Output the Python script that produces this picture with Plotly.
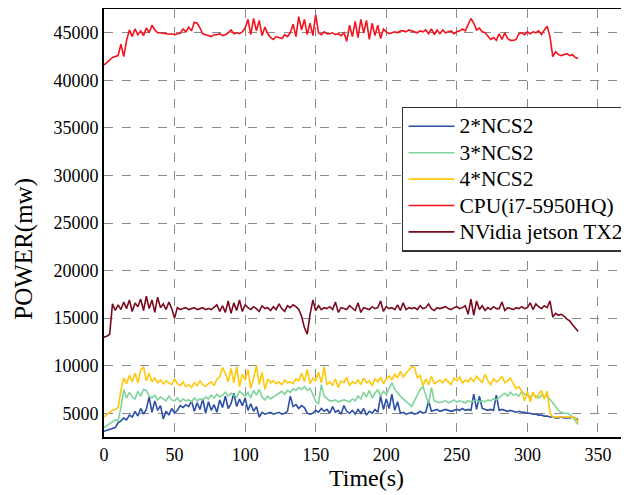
import plotly.graph_objects as go

TIME = [0, 2, 4, 6, 8, 10, 12, 14, 16, 18,
        20, 22, 24, 26, 28, 30, 32, 34, 36, 38,
        40, 42, 44, 46, 48, 50, 52, 54, 56, 58,
        60, 62, 64, 66, 68, 70, 72, 74, 76, 78,
        80, 82, 84, 86, 88, 90, 92, 94, 96, 98,
        100, 102, 104, 106, 108, 110, 112, 114, 116, 118,
        120, 122, 124, 126, 128, 130, 132, 134, 136, 138,
        140, 142, 144, 146, 148, 150, 152, 154, 156, 158,
        160, 162, 164, 166, 168, 170, 172, 174, 176, 178,
        180, 182, 184, 186, 188, 190, 192, 194, 196, 198,
        200, 202, 204, 206, 208, 210, 212, 214, 216, 218,
        220, 222, 224, 226, 228, 230, 232, 234, 236, 238,
        240, 242, 244, 246, 248, 250, 252, 254, 256, 258,
        260, 262, 264, 266, 268, 270, 272, 274, 276, 278,
        280, 282, 284, 286, 288, 290, 292, 294, 296, 298,
        300, 302, 304, 306, 308, 310, 312, 314, 316, 318,
        320, 322, 324, 326, 328, 330, 332, 334, 336]

NCS2_2 = [3100, 3200, 3300, 3400, 3500, 4000, 4200, 4500, 4300, 4800,
          4600, 5200, 4700, 5500, 4900, 5400, 6700, 5100, 6300, 5300,
          5800, 4400, 5200, 4800, 5500, 5000, 5300, 5800, 5600, 5900,
          5700, 6300, 5200, 6100, 5400, 6500, 5000, 6200, 5300, 5900,
          5100, 6400, 5600, 6800, 5500, 6000, 7100, 5700, 6500, 5800,
          6600, 5300, 6000, 5200, 5700, 4600, 5100, 4900, 5000, 5100,
          4900, 5000, 5100, 4900, 5000, 5200, 6800, 5700, 5900, 5500,
          5800, 5600, 5000, 4900, 5000, 5300, 5100, 5500, 5200, 5400,
          5000, 5700, 5100, 5300, 4900, 5800, 5200, 5000, 5300, 4900,
          5400, 5000, 5500, 4800, 5200, 5000, 5400, 5100, 6800, 5400,
          6500, 5500, 7000, 5300, 6200, 5000, 5100, 4900, 5000, 5100,
          4900, 5000, 5200, 5000, 5100, 6300, 5200, 5300, 5400, 5200,
          5300, 5400, 5300, 5200, 5300, 5400, 5300, 5500, 5300, 5400,
          5300, 7000, 5400, 6800, 5500, 5400, 5300, 5400, 5300, 6900,
          5300, 5400, 5300, 5200, 5300, 5200, 5100, 5200, 5100, 5100,
          5000, 5000, 4900, 4900, 4800, 4800, 4700, 4700, 4600, 4600,
          4500, 4500, 4600, 4500, 4500, 4500, 4600, 4500, 4300]

NCS2_3 = [3500, 3700, 3900, 4100, 4300, 4200, 5600, 7500, 6600, 7200,
          6700, 6500, 7300, 6800, 7500, 7400, 6800, 6600, 6900, 6400,
          6700, 6500, 6300, 6800, 6400, 6300, 6600, 6200, 6500, 6300,
          6400, 6200, 6600, 6300, 6500, 6400, 6700, 6500, 6900, 6600,
          7000, 6700, 6900, 7200, 6800, 7100, 6900, 6700, 7300, 7000,
          6800, 7200, 6600, 7400, 6900, 7500, 6700, 6400, 6800, 6500,
          6700, 6900, 7100, 7300, 7000, 7400, 7200, 7600, 7400, 7700,
          7500, 7800, 7400, 7600, 7000, 6200, 6000, 8000, 6800, 6500,
          6300, 6300, 6400, 6200, 6300, 6400, 6300, 6200, 6500, 6300,
          6800, 6500, 7200, 6700, 7400, 6600, 7100, 7500, 6800, 7300,
          7000, 7600, 8200, 7500, 7100, 6800, 6500, 6200, 5900, 5700,
          6300, 6900, 7500, 7800, 6800, 6000, 7700, 6300, 6200, 6100,
          6200, 6300, 6100, 6200, 6400, 6200, 6300, 6200, 6100, 6300,
          6200, 6300, 6400, 6200, 6300, 6200, 6400, 6300, 6500, 6400,
          6700, 6900, 7100, 6800, 7200, 6900, 7000, 6800, 7300, 7000,
          6900, 6700, 7000, 6800, 6600, 6900, 6700, 6800, 6500, 6100,
          5700, 5300, 5100, 5000, 5000, 4900, 4600, 4200, 3800]

NCS2_4 = [4600, 4900, 5100, 5300, 5400, 5600, 7400, 8700, 8100, 9000,
          8300, 9200, 8200, 9500, 9900, 8400, 9200, 8300, 8700, 8200,
          8500, 8100, 8400, 8200, 8000, 8600, 8100, 7900, 8300, 7800,
          8000, 7700, 8200, 7900, 8400, 8000, 7800, 8100, 8300, 7900,
          8600, 8800, 9800, 9200, 8300, 9700, 8200, 9900, 7800, 9100,
          8500, 9600, 7600, 8700, 10000, 8000, 9300, 7500, 8600, 8200,
          8400, 8100, 8300, 8000, 8500, 8200, 8300, 8100, 8600, 8400,
          9200, 8300, 9600, 8100, 8700, 8400, 9300, 8200, 9900, 8000,
          8300, 7900, 8600, 7700, 8400, 8200, 8800, 7900, 8300, 8100,
          8500, 8000, 8700, 8200, 8400, 7900, 8600, 8300, 8800, 8100,
          8600, 8900, 8500, 9100, 8700, 9400, 8800, 9200, 9600, 9900,
          9800, 8700, 9000, 7900, 8600, 8000, 8900, 8100, 8300, 8500,
          8200, 8600, 8300, 8000, 8700, 8400, 8800, 8200, 8500, 8300,
          8700, 8300, 8900, 8500, 8200, 9100, 8400, 8000, 8600, 8300,
          8500, 8900, 8200, 8400, 8700, 8100, 7600, 7800, 7300, 6300,
          7300, 6200, 7200, 6600, 7000, 7400, 6500, 7300, 5000, 4600,
          4600, 4600, 4600, 4600, 4600, 4600, 4600, 4500, 4000]

CPU = [41600, 41900, 42200, 42400, 42500, 42600, 43800, 42500, 44200, 45300,
       44600, 45400, 44800, 45200, 44700, 45500, 45000, 45800, 45300, 45000,
       45000, 44950, 44900, 44850, 44900, 44800, 44900, 44950, 45400, 45100,
       45600, 45200, 46100, 46000, 45500, 44900, 44800, 44700, 44600, 44800,
       44800, 44900, 44700, 44800, 45000, 45300, 44900, 45000, 44900, 45100,
       45500, 46400, 44800, 46500, 45200, 46300, 44700, 45600, 44900, 44500,
       44300, 44600, 44500, 44400, 44800, 44600, 45000, 45900, 44600, 46700,
       45300, 46400, 44800, 46000, 44700, 46900, 45000, 44800, 45100, 44900,
       44900, 45000, 44800, 44900, 44700, 45000, 44100, 45800, 44600, 46200,
       44500, 46400, 45000, 46300, 44300, 46000, 44700, 45800, 44400, 45400,
       45100, 44900, 45000, 45100, 45000, 45200, 45200, 45100, 45300, 45200,
       45100, 45000, 45200, 45100, 45300, 44900, 45400, 44800, 45300, 44900,
       45300, 45000, 45100, 45200, 44900, 45100, 45200, 45400, 45200, 45800,
       46500, 46000, 45300, 45500, 45100, 45000, 44700, 44300, 44500, 44200,
       44900, 44300, 45000, 44400, 44200, 44200, 44300, 44900, 45000, 44800,
       45100, 44900, 45100, 45000, 45200, 44800, 45300, 45700, 44600, 42500,
       43000, 42700, 42600, 42700, 42800, 42600, 42700, 42400, 42300]

TX2 = [13000, 13100, 13300, 16500, 15800, 16400, 15900, 16700, 16000, 16900,
       15700, 16600, 16200, 17000, 15800, 17300, 16000, 16900, 15600, 17200,
       16100, 16500, 15900, 16700, 16000, 15000, 16100, 15900, 16000, 16100,
       15900, 16000, 16100, 15900, 16000, 16100, 15900, 16000, 15900, 16200,
       16400, 15700, 16300, 15600, 16800, 15500, 16600, 15800, 16900, 15700,
       16400, 16100, 15900, 16200, 16000, 15700, 16300, 16000, 16100, 15800,
       16200, 15900, 16500, 16000, 15700, 16300, 16100, 16400, 16200, 15900,
       15200, 14000, 13300, 15400, 16900, 15800, 16300, 15900, 16100, 16000,
       16200, 15900, 16700, 15600, 16100, 16000, 15900, 16300, 16000, 15800,
       16600, 15600, 16100, 16000, 15900, 16200, 16000, 16100, 16800, 15700,
       16200, 16000, 16100, 15900, 16400, 15800, 16600, 15900, 16100, 16000,
       16100, 15900, 16300, 16000, 16100, 16500, 16000, 15800, 16100, 16000,
       16100, 16200, 16000, 15900, 16100, 16200, 16000, 16100, 16300, 15400,
       17000, 15300, 16800, 15900, 16300, 15800, 16100, 15900, 16200, 16000,
       16000, 16700, 15800, 16100, 16000, 15900, 16100, 16000, 16200, 16000,
       16100, 16600, 15900, 16500, 16200, 16000, 16300, 16100, 16800, 15100,
       15500, 15300, 15400, 15200, 14900, 14700, 14300, 14000, 13600]

SERIES = [
    ("2*NCS2", NCS2_2, "#2B4EA6"),
    ("3*NCS2", NCS2_3, "#7FD49B"),
    ("4*NCS2", NCS2_4, "#FFC80A"),
    ("CPU(i7-5950HQ)", CPU, "#F5121C"),
    ("NVidia jetson TX2", TX2, "#7A0A1E"),
]

X_TICKS = [0, 50, 100, 150, 200, 250, 300, 350]
Y_TICKS = [5000, 10000, 15000, 20000, 25000, 30000, 35000, 40000, 45000]
Y_TICK_TEXT = ["5000", "10000", "15000", "20000", "25000",
               "30000", "35000", "40000", "45000"]

FONT = "Liberation Serif, Times New Roman, serif"

fig = go.Figure()
for name, vals, color in SERIES:
    fig.add_trace(go.Scatter(
        x=TIME, y=vals, mode="lines",
        name='<span style="font-size:21.5px">' + name + "</span>",
        line=dict(color=color, width=1.6)))

# the page has an 8px body margin, so the figure is 8px smaller and
# its margins are reduced by 8px to land the plot where the reference has it
fig.update_layout(
    width=621, height=487,
    margin=dict(l=96, r=0, t=1, b=58, autoexpand=False),
    paper_bgcolor="white", plot_bgcolor="white",
    font=dict(family=FONT, size=18, color="black"),
    showlegend=True,
    legend=dict(x=0.5676, y=0.772, xanchor="left", yanchor="top",
                bgcolor="white", bordercolor="#333333", borderwidth=1.5,
                font=dict(family=FONT, size=18, color="black"),
                tracegroupgap=0, itemwidth=46),
    annotations=[dict(text="POWER(mw)", textangle=-90, xref="paper",
                      yref="paper", x=0, y=0.44, xanchor="center",
                      yanchor="middle", xshift=-80, showarrow=False,
                      font=dict(family=FONT, size=25, color="black"))],
)
fig.update_xaxes(
    range=[0, 372], tickvals=X_TICKS, showgrid=True, gridcolor="#8a8a8a",
    griddash="dash", gridwidth=1.3, showline=True, linecolor="black",
    linewidth=2, mirror=True, zeroline=False, ticks="", automargin=False,
    title=dict(text="Time(s)", font=dict(family=FONT, size=24), standoff=4),
)
fig.update_yaxes(
    range=[2500, 47500], tickvals=Y_TICKS, ticktext=Y_TICK_TEXT,
    showgrid=True, gridcolor="#8a8a8a",
    griddash="dash", gridwidth=1.3, showline=True, linecolor="black",
    linewidth=2, mirror=False, zeroline=False, ticks="", automargin=False,
)

fig.write_html("out.html")
